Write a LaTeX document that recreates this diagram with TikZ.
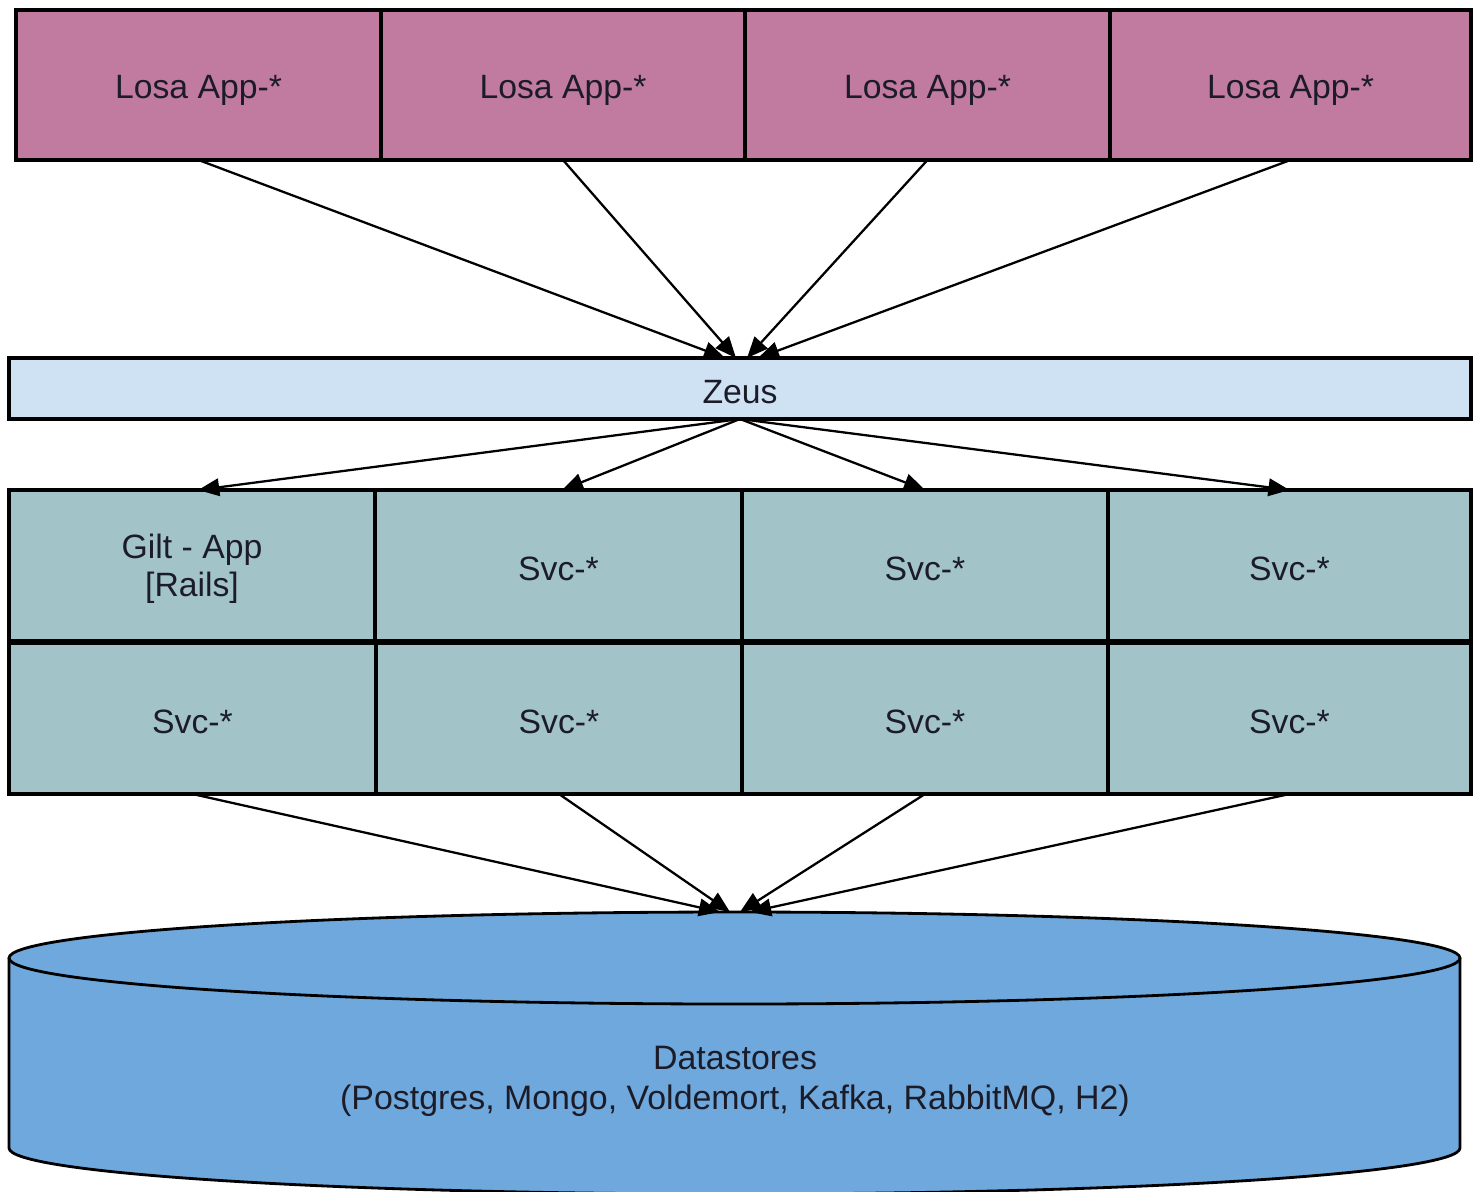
\documentclass[tikz,border=0pt]{standalone}
\usepackage{fontspec}
\setmainfont{Liberation Sans}
\usetikzlibrary{fit,arrows.meta}
\definecolor{losa}{HTML}{C27BA0}
\definecolor{zeusc}{HTML}{CFE2F3}
\definecolor{svcc}{HTML}{A2C4C9}
\definecolor{dsc}{HTML}{6FA8DC}
\definecolor{txt}{HTML}{1C1C28}
\tikzset{
  lbl/.style={text=txt, font=\fontsize{19.2}{21.5}\selectfont, align=center, inner sep=0pt},
  every label/.style={lbl, yshift=-1.8pt},
  box/.style={draw=black, line width=1.8pt, inner sep=0pt, outer sep=0pt},
  losabox/.style={box, fill=losa},
  zeusbox/.style={box, fill=zeusc},
  svcbox/.style={box, fill=svcc},
  arr/.style={line width=1.3pt, -{Triangle[length=12pt,width=10pt]}},
  dsline/.style={draw=black, line width=1.6pt},
}
\begin{document}
\begin{tikzpicture}[x=0.02cm,y=-0.02cm]
\useasboundingbox (0,0) rectangle (1473,1191);
% top row
\node[losabox, fit={(16,10)(381,160)}, label={[yshift=-1pt]center:Losa App-*}] (a1) {};
\node[losabox, fit={(381,10)(745,160)}, label={[yshift=-1pt]center:Losa App-*}] (a2) {};
\node[losabox, fit={(745,10)(1110,160)}, label={[yshift=-1pt]center:Losa App-*}] (a3) {};
\node[losabox, fit={(1110,10)(1471,160)}, label={[yshift=-1pt]center:Losa App-*}] (a4) {};
% zeus
\node[zeusbox, fit={(9,358)(1471,419)}, label={center:Zeus}] (zeus) {};
% services
\node[svcbox, fit={(9,490)(375,641)}, label={center:Gilt - App\\{[Rails]}}] (m1) {};
\node[svcbox, fit={(375,490)(742,641)}, label={center:Svc-*}] (m2) {};
\node[svcbox, fit={(742,490)(1108,641)}, label={center:Svc-*}] (m3) {};
\node[svcbox, fit={(1108,490)(1471,641)}, label={center:Svc-*}] (m4) {};
\node[svcbox, fit={(9,643)(376,794)}, label={center:Svc-*}] (m5) {};
\node[svcbox, fit={(376,643)(742,794)}, label={center:Svc-*}] (m6) {};
\node[svcbox, fit={(742,643)(1108,794)}, label={center:Svc-*}] (m7) {};
\node[svcbox, fit={(1108,643)(1471,794)}, label={center:Svc-*}] (m8) {};
% datastore cylinder
\fill[dsc] (9,958) -- (9,1148) arc[start angle=180, end angle=0, x radius=725.5, y radius=46] -- (1460,958) -- cycle;
\fill[dsc] (734.5,958) ellipse[x radius=725.5, y radius=46];
\draw[dsline] (734.5,958) ellipse[x radius=725.5, y radius=46];
\draw[dsline] (9,958) -- (9,1148) arc[start angle=180, end angle=0, x radius=725.5, y radius=46] -- (1460,958);
\node[lbl, font=\fontsize{19.3}{22.7}\selectfont] (ds) at (735,1081) {Datastores\\(Postgres, Mongo, Voldemort, Kafka, RabbitMQ, H2)};
% arrow end coordinates
\coordinate (z1) at (725,358);
\coordinate (z2) at (736,358);
\coordinate (z3) at (747,358);
\coordinate (z4) at (758,358);
\coordinate (zs) at (740,419);
\coordinate (d1) at (720,912);
\coordinate (d2) at (730,912);
\coordinate (d3) at (740,912);
\coordinate (d4) at (750,912);
% arrows
\draw[arr] (a1.south) -- (z1);
\draw[arr] (a2.south) -- (z2);
\draw[arr] (a3.south) -- (z3);
\draw[arr] (a4.south) -- (z4);
\draw[arr] (zs) -- ([xshift=3.5pt]m1.north);
\draw[arr] (zs) -- ([xshift=2pt]m2.north);
\draw[arr] (zs) -- (m3.north);
\draw[arr] (zs) -- (m4.north);
\draw[arr] (m5.south) -- (d1);
\draw[arr] (m6.south) -- (d2);
\draw[arr] (m7.south) -- (d3);
\draw[arr] (m8.south) -- (d4);
\end{tikzpicture}
\end{document}
